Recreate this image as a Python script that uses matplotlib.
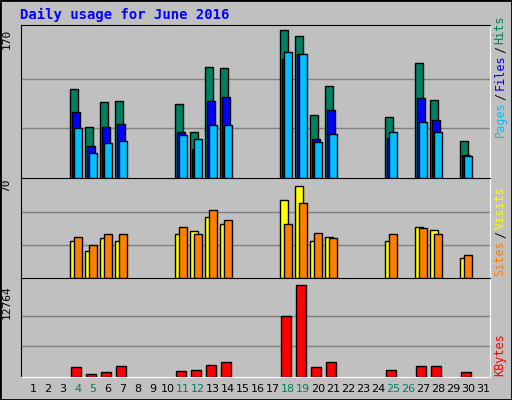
import numpy as np
import matplotlib.pyplot as plt
from matplotlib.patches import Rectangle

days = np.arange(1, 32)
active = np.array([4, 5, 6, 7, 11, 12, 13, 14, 18, 19, 20, 21, 25, 27, 28, 30])
hits = [102, 58, 87, 88, 85, 52, 127, 126, 169, 162, 72, 105, 70, 131, 89, 42]
files = [75, 37, 58, 62, 53, 33, 88, 93, 136, 142, 45, 78, 46, 91, 66, 26]
pages = [57, 28, 40, 42, 49, 45, 60, 60, 144, 141, 41, 50, 52, 64, 53, 25]
visits = [26, 19, 28, 26, 31, 33, 43, 38, 55, 65, 26, 29, 26, 36, 34, 14]
sites = [29, 23, 31, 31, 36, 31, 48, 41, 38, 53, 32, 28, 31, 35, 31, 16]
kbytes = [1444, 466, 745, 1584, 885, 1025, 1723, 2143, 8431, 12764, 1444, 2143, 1025, 1584, 1584, 745]
weekend = [4, 5, 11, 12, 18, 19, 25, 26]

W, H = 512, 400
fig = plt.figure(figsize=(W/100, H/100), dpi=100, facecolor='#C0C0C0')
fig.patches.append(Rectangle((0, 0), 1, 1, transform=fig.transFigure, fill=False,
                             edgecolor='black', lw=2))

def box(y0, y1):
    return [21/W, 1-y1/H, (490-21)/W, (y1-y0)/H]

ax1 = fig.add_axes(box(25, 178))
ax2 = fig.add_axes(box(178, 278))
ax3 = fig.add_axes(box(278, 377))

kw = dict(align='edge', edgecolor='black', linewidth=1)
ax1.bar(active-0.5, hits, 0.5, color='#008060', **kw)
ax1.bar(active-0.37, files, 0.48, color='#0000FF', **kw)
ax1.bar(active-0.25, pages, 0.5, color='#00C0FF', **kw)
ax2.bar(active-0.5, visits, 0.5, color='#FFFF00', **kw)
ax2.bar(active-0.25, sites, 0.5, color='#FF8000', **kw)
ax3.bar(active-0.45, kbytes, 0.68, color='#FF0000', **kw)

maxes = [170, 70, 12764]
lims = [174.6, 70.5, 13700]
for ax, m, lim in zip([ax1, ax2, ax3], maxes, lims):
    ax.set_facecolor('#C0C0C0')
    ax.set_xlim(0.2, 31.47)
    ax.set_ylim(0, lim)
    for g in (m/3, 2*m/3):
        ax.axhline(g, color='#808080', lw=1, zorder=0)
    ax.set_xticks([]); ax.set_yticks([])
    for s in ('left', 'top'):
        ax.spines[s].set_color('black')
    for s in ('right', 'bottom'):
        ax.spines[s].set_color('white')
    ax.text(-0.02, m, str(m), transform=ax.get_yaxis_transform(), rotation=90,
            ha='right', va='top', fontsize=8, family='DejaVu Sans Mono')

fig.text(20/W, 1-15/H, 'Daily usage for June 2016', color='#0000FF', fontsize=10,
         fontweight='bold', family='DejaVu Sans Mono', va='center')

def side(y_top, parts):
    # stacked rotated labels from bottom to top
    y = y_top
    for txt, c in parts:
        fig.text(500/W, 1-y/H, txt, rotation=90, color=c, fontsize=8.5,
                 family='DejaVu Sans Mono', ha='center', va='bottom')
        y -= len(txt)*7.1 + 2

side(137, [('Pages', '#00C0FF'), ('/', '#000000'), ('Files', '#0000FF'),
           ('/', '#000000'), ('Hits', '#008060')])
side(276, [('Sites', '#FF8000'), ('/', '#000000'), ('Visits', '#FFFF00')])
side(376, [('KBytes', '#FF0000')])

for d in days:
    c = '#008060' if d in weekend else 'black'
    fig.text((21 + (d-0.2)*15)/W, 1-389/H, str(d), color=c, fontsize=8,
             ha='center', va='center')

fig.savefig('out.png', dpi=100, facecolor=fig.get_facecolor())
